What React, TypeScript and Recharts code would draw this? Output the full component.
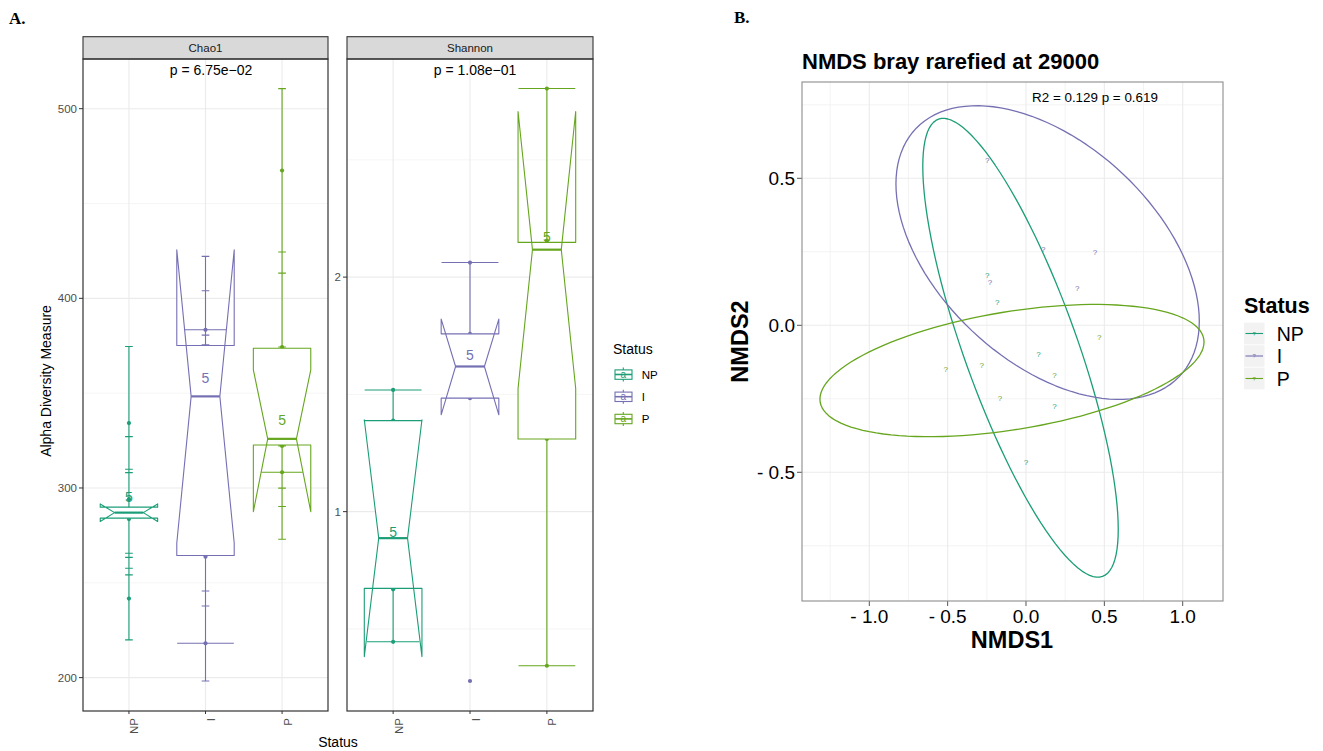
import React from 'react';
import { ScatterChart, Scatter, XAxis, YAxis, CartesianGrid } from 'recharts';

const FONT = '"Liberation Sans", Arial, Helvetica, sans-serif';
const SERIF = '"Liberation Serif", "Times New Roman", serif';

// ---------- groups ----------
const GROUPS = ['NP', 'I', 'P'];
const GROUP_X = [1, 2, 3];
const COLORS = ['#1B9E77', '#7570B3', '#66A61E'];
const BOX_HALF = 0.375;
const NOTCH_HALF = 0.1875;
const SMALL_CAP = 0.05;

// ---------- Chao1 ----------
const chaoLower = [284.1, 264.4, 322.7];
const chaoUpper = [289.9, 375.1, 373.7];
const chaoMedian = [287.0, 348.3, 325.9];
const chaoNotchLow = [282.3, 271.0, 287.5];
const chaoNotchHigh = [291.6, 425.6, 362.3];
const chaoRangeMin = [219.9, 198.2, 273.0];
const chaoRangeMax = [374.6, 422.1, 510.6];
const chaoSmallCaps = [
  [374.6, 327.1, 309.9, 308.1, 265.6, 263.4, 257.7, 254.2, 219.9],
  [422.1, 404.0, 380.6, 375.5, 245.7, 237.8, 198.2],
  [510.6, 424.4, 413.3, 374.3, 322.2, 299.9, 290.2, 273.0],
];
const chaoWideCaps = [[], [383.4, 218.1], [308.3]];
const chaoWideCapHalf = [[], [0.27, 0.37], [0.27]];
const chaoDots = [
  [334.2, 294.1, 283.6, 241.7],
  [383.4, 263.8, 218.1],
  [467.4, 374.3, 322.2, 308.3],
];
const chaoCountY = [295.5, 357.9, 335.6];
const chaoDomain = [182.4, 526.2];
const chaoTicks = [200, 300, 400, 500];
const chaoMinor = [250, 350, 450];

// ---------- Shannon ----------
const shLower = [0.673, 1.484, 1.31];
const shUpper = [1.388, 1.758, 2.148];
const shMedian = [0.887, 1.619, 2.117];
const shNotchLow = [0.382, 1.413, 1.525];
const shNotchHigh = [1.392, 1.821, 2.706];
const shRangeMin = [0.445, 1.484, 0.343];
const shRangeMax = [1.519, 2.062, 2.804];
const shSmallCaps = [[], [], []];
const shWideCaps = [[1.519, 0.445], [2.062], [2.804, 0.343]];
const shWideCapHalf = [[0.37, 0.34], [0.37], [0.37, 0.37]];
const shDots = [
  [1.519, 1.388, 0.669, 0.445],
  [2.062, 1.758, 1.484, 0.278],
  [2.804, 2.156, 1.31, 0.343],
];
const shCountY = [0.912, 1.668, 2.173];
const shDomain = [0.15, 2.93];
const shTicks = [1, 2];
const shMinor = [0.5, 1.5, 2.5];

// ---------- NMDS ----------
const nmdsX = [
  [-0.247, -0.183, 0.079, 0.181, 0.0],
  [-0.247, 0.11, 0.44, -0.23, 0.327],
  [0.468, -0.512, -0.283, 0.181, -0.166],
];
const nmdsY = [
  [0.171, 0.077, -0.098, -0.275, -0.467],
  [0.562, 0.258, 0.248, 0.146, 0.126],
  [-0.041, -0.15, -0.138, -0.172, -0.248],
];
// ellipse centre and covariance-like shape (data units)
const ellCx = [-0.035, 0.138, -0.0895];
const ellCy = [-0.0765, 0.2475, -0.154];
const ellSxx = [0.389, 0.937, 1.502];
const ellSyy = [0.609, 0.2495, 0.0506];
const ellSxy = [-0.385, -0.226, 0.1191];
const nmdsXDomain = [-1.4295, 1.2572];
const nmdsYDomain = [-0.9378, 0.8276];
const nmdsXTicks = [-1, -0.5, 0, 0.5, 1];
const nmdsYTicks = [-0.5, 0, 0.5];
const nmdsXMinor = [-1.25, -0.75, -0.25, 0.25, 0.75];
const nmdsYMinor = [-0.75, -0.25, 0.25, 0.75];

type Pt = { x: number; y: number };

interface PanelData {
  lower: number[]; upper: number[]; median: number[]; notchLow: number[]; notchHigh: number[];
  rangeMin: number[]; rangeMax: number[];
  smallCaps: number[][]; wideCaps: number[][]; wideCapHalf: number[][];
  dots: number[][]; countY: number[];
}

const chaoData: PanelData = {
  lower: chaoLower, upper: chaoUpper, median: chaoMedian, notchLow: chaoNotchLow, notchHigh: chaoNotchHigh,
  rangeMin: chaoRangeMin, rangeMax: chaoRangeMax, smallCaps: chaoSmallCaps, wideCaps: chaoWideCaps,
  wideCapHalf: chaoWideCapHalf, dots: chaoDots, countY: chaoCountY,
};
const shData: PanelData = {
  lower: shLower, upper: shUpper, median: shMedian, notchLow: shNotchLow, notchHigh: shNotchHigh,
  rangeMin: shRangeMin, rangeMax: shRangeMax, smallCaps: shSmallCaps, wideCaps: shWideCaps,
  wideCapHalf: shWideCapHalf, dots: shDots, countY: shCountY,
};

const noShape = () => <g />;

function segmentsRenderer(color: string, width: number) {
  return (props: any) => {
    const pts = props.points || [];
    let d = '';
    for (let i = 0; i + 1 < pts.length; i += 2) {
      d += `M${pts[i].x},${pts[i].y}L${pts[i + 1].x},${pts[i + 1].y}`;
    }
    return <path d={d} stroke={color} strokeWidth={width} fill="none" />;
  };
}

function polygonRenderer(color: string, width: number, fill: string) {
  return (props: any) => {
    const pts = props.points || [];
    if (!pts.length) return <g />;
    const d = 'M' + pts.map((p: Pt) => `${p.x},${p.y}`).join('L') + 'Z';
    return <path d={d} stroke={color} strokeWidth={width} fill={fill} strokeLinejoin="round" />;
  };
}

function dotShape(color: string) {
  return (props: any) => <circle cx={props.cx} cy={props.cy} r={2.1} fill={color} />;
}

function textShape(color: string, size: number, label: string) {
  return (props: any) => (
    <text x={props.cx} y={props.cy} fill={color} fontSize={size} fontFamily={FONT}
      textAnchor="middle" dominantBaseline="central">{label}</text>
  );
}

function groupSegments(p: PanelData, i: number): Pt[] {
  const gx = GROUP_X[i];
  const pts: Pt[] = [{ x: gx, y: p.rangeMin[i] }, { x: gx, y: p.rangeMax[i] }];
  p.smallCaps[i].forEach((y) => pts.push({ x: gx - SMALL_CAP, y }, { x: gx + SMALL_CAP, y }));
  p.wideCaps[i].forEach((y, k) => pts.push({ x: gx - p.wideCapHalf[i][k], y }, { x: gx + p.wideCapHalf[i][k], y }));
  return pts;
}

function boxPolygon(p: PanelData, i: number): Pt[] {
  const gx = GROUP_X[i];
  const hw = BOX_HALF;
  const nw = NOTCH_HALF;
  return [
    { x: gx - hw, y: p.upper[i] }, { x: gx - hw, y: p.notchHigh[i] }, { x: gx - nw, y: p.median[i] },
    { x: gx - hw, y: p.notchLow[i] }, { x: gx - hw, y: p.lower[i] },
    { x: gx + hw, y: p.lower[i] }, { x: gx + hw, y: p.notchLow[i] }, { x: gx + nw, y: p.median[i] },
    { x: gx + hw, y: p.notchHigh[i] }, { x: gx + hw, y: p.upper[i] },
  ];
}

function ellipsePoints(i: number): Pt[] {
  const a11 = Math.sqrt(ellSxx[i]);
  const a21 = ellSxy[i] / a11;
  const a22 = Math.sqrt(ellSyy[i] - a21 * a21);
  const pts: Pt[] = [];
  const n = 120;
  for (let k = 0; k < n; k++) {
    const t = (2 * Math.PI * k) / n;
    pts.push({ x: ellCx[i] + a11 * Math.cos(t), y: ellCy[i] + a21 * Math.cos(t) + a22 * Math.sin(t) });
  }
  return pts;
}

const renderGroupTick = (props: any) => {
  const { x, y, payload } = props;
  const label = GROUPS[Math.round(payload.value) - 1] || '';
  const yy = y + 2;
  return (
    <text x={x} y={yy} dy={9.5} transform={`rotate(-90, ${x}, ${yy})`} textAnchor="end"
      fontSize={11.5} fill="#4D4D4D" fontFamily={FONT}>{label}</text>
  );
};

function BoxPanel(props: {
  data: PanelData; domain: number[]; ticks: number[]; minor: number[];
  yAxisWidth: number; chartWidth: number; rightMargin: number;
}) {
  const { data, domain, ticks, minor, yAxisWidth, chartWidth, rightMargin } = props;
  return (
    <ScatterChart width={chartWidth} height={751} margin={{ top: 59, right: rightMargin, bottom: 0, left: 0 }}>
      <CartesianGrid horizontalValues={minor} vertical={false} stroke="#F0F0F0" strokeWidth={0.7} />
      <CartesianGrid horizontalValues={ticks} verticalValues={GROUP_X} stroke="#EBEBEB" strokeWidth={1.1} />
      <XAxis type="number" dataKey="x" domain={[0.4, 3.6]} allowDataOverflow ticks={GROUP_X} interval={0}
        height={40} axisLine={false} tickSize={3} tickMargin={2} tickLine={{ stroke: '#333' }} tick={renderGroupTick} />
      <YAxis type="number" dataKey="y" domain={domain} allowDataOverflow ticks={ticks} interval={0}
        width={yAxisWidth} axisLine={false} tickSize={4} tickMargin={2} tickLine={{ stroke: '#333' }}
        tick={{ fontSize: 11.5, fill: '#4D4D4D', fontFamily: FONT }} />
      {GROUP_X.map((_, i) => (
        <Scatter key={'seg' + i} data={groupSegments(data, i)} line={segmentsRenderer(COLORS[i], 1.1)}
          lineType="joint" shape={noShape} isAnimationActive={false} />
      ))}
      {GROUP_X.map((gx, i) => (
        <Scatter key={'dot' + i} data={data.dots[i].map((y) => ({ x: gx, y }))} shape={dotShape(COLORS[i])}
          isAnimationActive={false} />
      ))}
      {GROUP_X.map((_, i) => (
        <Scatter key={'box' + i} data={boxPolygon(data, i)} line={polygonRenderer(COLORS[i], 1.1, '#FFFFFF')}
          lineType="joint" shape={noShape} isAnimationActive={false} />
      ))}
      {GROUP_X.map((gx, i) => (
        <Scatter key={'med' + i}
          data={[{ x: gx - NOTCH_HALF, y: data.median[i] }, { x: gx + NOTCH_HALF, y: data.median[i] }]}
          line={segmentsRenderer(COLORS[i], 2.2)} lineType="joint" shape={noShape} isAnimationActive={false} />
      ))}
      {GROUP_X.map((gx, i) => (
        <Scatter key={'n' + i} data={[{ x: gx, y: data.countY[i] }]} shape={textShape(COLORS[i], 14, '5')}
          isAnimationActive={false} />
      ))}
    </ScatterChart>
  );
}

const fmtNmds = (v: number) => (v < 0 ? `- ${Math.abs(v).toFixed(1)}` : v.toFixed(1));

function NmdsPanel() {
  return (
    <ScatterChart width={540} height={751} margin={{ top: 82, right: 17, bottom: 0, left: 0 }}>
      <CartesianGrid horizontalValues={nmdsYMinor} verticalValues={nmdsXMinor} stroke="#F2F2F2" strokeWidth={0.9} />
      <CartesianGrid horizontalValues={nmdsYTicks} verticalValues={nmdsXTicks} stroke="#EBEBEB" strokeWidth={1.1} />
      <XAxis type="number" dataKey="x" domain={nmdsXDomain} allowDataOverflow ticks={nmdsXTicks} interval={0}
        height={150} axisLine={false} tickSize={5} tickMargin={4} tickLine={{ stroke: '#555' }}
        tickFormatter={fmtNmds} tick={{ fontSize: 19, fill: '#000', fontFamily: FONT }} />
      <YAxis type="number" dataKey="y" domain={nmdsYDomain} allowDataOverflow ticks={nmdsYTicks} interval={0}
        width={102} axisLine={false} tickSize={5} tickMargin={2} tickLine={{ stroke: '#555' }}
        tickFormatter={fmtNmds} tick={{ fontSize: 19, fill: '#000', fontFamily: FONT }} />
      {GROUPS.map((g, i) => (
        <Scatter key={'ell' + g} data={ellipsePoints(i)} line={polygonRenderer(COLORS[i], 1.3, 'none')}
          lineType="joint" shape={noShape} isAnimationActive={false} />
      ))}
      {GROUPS.map((g, i) => (
        <Scatter key={'pt' + g} data={nmdsX[i].map((x, k) => ({ x, y: nmdsY[i][k] }))}
          shape={textShape(COLORS[i], 8, '?')} isAnimationActive={false} />
      ))}
    </ScatterChart>
  );
}

export default function App() {
  const legendAY = [374.5, 396.7, 418.9];
  const legendBY = [333.5, 356, 378.5];
  return (
    <div style={{ position: 'absolute', left: 0, top: 0, width: 1323, height: 751, background: '#fff', overflow: 'hidden' }}>
      <div style={{ position: 'absolute', left: 0, top: 0 }}>
        <BoxPanel data={chaoData} domain={chaoDomain} ticks={chaoTicks} minor={chaoMinor}
          yAxisWidth={83} chartWidth={340} rightMargin={12} />
      </div>
      <div style={{ position: 'absolute', left: 330, top: 0 }}>
        <BoxPanel data={shData} domain={shDomain} ticks={shTicks} minor={shMinor}
          yAxisWidth={17} chartWidth={275} rightMargin={12} />
      </div>
      <div style={{ position: 'absolute', left: 700, top: 0 }}>
        <NmdsPanel />
      </div>
      <svg width={1323} height={751} style={{ position: 'absolute', left: 0, top: 0, pointerEvents: 'none' }}
        fontFamily={FONT}>
        {/* panel letters */}
        <text x={9} y={24} fontFamily={SERIF} fontWeight="bold" fontSize={17} fill="#000">A.</text>
        <text x={734} y={23} fontFamily={SERIF} fontWeight="bold" fontSize={17} fill="#000">B.</text>

        {/* facet strips and frames */}
        <rect x={83} y={36.7} width={245} height={22.3} fill="#D9D9D9" stroke="#333" strokeWidth={1.1} />
        <text x={205.5} y={52} textAnchor="middle" fontSize={11.5} fill="#1A1A1A">Chao1</text>
        <rect x={347} y={36.7} width={246} height={22.3} fill="#D9D9D9" stroke="#333" strokeWidth={1.1} />
        <text x={470} y={52} textAnchor="middle" fontSize={11.5} fill="#1A1A1A">Shannon</text>
        <rect x={83} y={59} width={245} height={652} fill="none" stroke="#333" strokeWidth={1.2} />
        <rect x={347} y={59} width={246} height={652} fill="none" stroke="#333" strokeWidth={1.2} />

        <text x={211} y={75} textAnchor="middle" fontSize={14} fill="#000">p = 6.75e−02</text>
        <text x={475} y={75} textAnchor="middle" fontSize={14} fill="#000">p = 1.08e−01</text>

        <text x={51} y={381} transform="rotate(-90, 51, 381)" textAnchor="middle" fontSize={14} fill="#000">Alpha Diversity Measure</text>
        <text x={338} y={747} textAnchor="middle" fontSize={14} fill="#000">Status</text>

        {/* legend A */}
        <text x={613} y={354} fontSize={14} fill="#000">Status</text>
        {GROUPS.map((g, i) => {
          const cy = legendAY[i];
          return (
            <g key={'la' + g}>
              <line x1={623.3} x2={623.3} y1={cy - 7} y2={cy + 7} stroke={COLORS[i]} strokeWidth={1.1} />
              <rect x={615} y={cy - 4.6} width={17} height={9.4} fill="#fff" stroke={COLORS[i]} strokeWidth={1.1} />
              <line x1={615} x2={632} y1={cy} y2={cy} stroke={COLORS[i]} strokeWidth={1.6} />
              <text x={623.3} y={cy + 3.5} textAnchor="middle" fontSize={10} fill={COLORS[i]}>a</text>
              <text x={641.7} y={cy + 4} fontSize={11.5} fill="#000">{g}</text>
            </g>
          );
        })}

        {/* NMDS frame and texts */}
        <rect x={802} y={82} width={421} height={519} fill="none" stroke="#8C8C8C" strokeWidth={1.1} />
        <text x={802} y={68.5} fontSize={22} fontWeight="bold" fill="#000">NMDS bray rarefied at 29000</text>
        <text x={1095} y={102} textAnchor="middle" fontSize={13.4} fill="#000">R2 = 0.129 p = 0.619</text>
        <text x={1012} y={647.7} textAnchor="middle" fontSize={23.5} fontWeight="bold" fill="#000">NMDS1</text>
        <text x={748} y={341.5} transform="rotate(-90, 748, 341.5)" textAnchor="middle" fontSize={23.5}
          fontWeight="bold" fill="#000">NMDS2</text>

        {/* legend B */}
        <text x={1244} y={313} fontSize={21.5} fontWeight="bold" fill="#000">Status</text>
        {GROUPS.map((g, i) => {
          const cy = legendBY[i];
          return (
            <g key={'lb' + g}>
              <rect x={1244} y={cy - 10.8} width={20.5} height={21.6} fill="#F2F2F2" />
              <line x1={1245.5} x2={1263} y1={cy} y2={cy} stroke={COLORS[i]} strokeWidth={1.1} />
              <text x={1254.2} y={cy} textAnchor="middle" dominantBaseline="central" fontSize={6} fill={COLORS[i]}>?</text>
              <text x={1276.7} y={cy + 7} fontSize={19.5} fill="#000">{g}</text>
            </g>
          );
        })}
      </svg>
    </div>
  );
}
